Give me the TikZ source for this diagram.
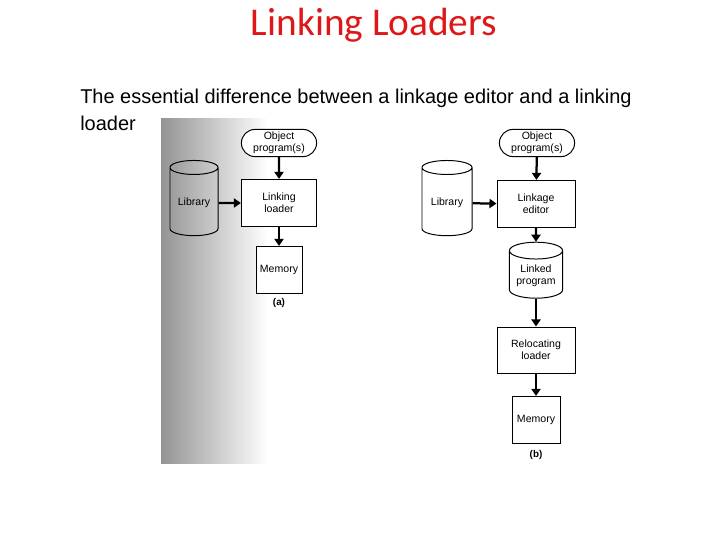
\documentclass[tikz,border=0pt]{standalone}
\usepackage{fontspec}
\setmainfont{Liberation Sans}
\newfontfamily\titlefont{Carlito}
\usetikzlibrary{shapes.geometric,shapes.misc,arrows.meta}
\definecolor{titlered}{RGB}{222,24,24}

\begin{document}
\begin{tikzpicture}
  [x=0.025cm,y=-0.025cm,
   every node/.style={font=\fontsize{7.5}{8.5}\selectfont,align=center,inner sep=1pt},
   box/.style={draw,line width=0.7pt,fill=white},
   store/.style={draw,line width=0.7pt,cylinder,shape border rotate=90,aspect=0.4},
   source/.style={draw,line width=0.7pt,rounded rectangle,fill=white,minimum width=1.95cm,minimum height=0.68cm},
   flow/.style={line width=1.6pt,-{Triangle[length=5pt,width=6.5pt]}}]
  \useasboundingbox (0,0) rectangle (720,539);
  \shade[left color=black!42,right color=white] (161,118) rectangle (268,463);

  \node[font=\titlefont\fontsize{28}{33}\selectfont,text=titlered,anchor=base] (title) at (374,35) {Linking Loaders};
  \node[font=\fontsize{14.2}{18.5}\selectfont,align=left,anchor=base west,inner sep=0pt] (intro) at (80,130)
    {The essential difference between a linkage editor and a linking\\loader};

  % (a) linking loader
  \node[source] (obja) at (279,143) {Object\\program(s)};
  \node[box,minimum width=1.88cm,minimum height=1.18cm] (linka) at (279,203) {Linking\\loader};
  \node[store,minimum width=1.2cm,minimum height=1.88cm] (liba) at (194,203) {Library};
  \node[box,minimum width=1.15cm,minimum height=1.18cm] (mema) at (279,270) {Memory};
  \node[font=\bfseries\fontsize{7}{8}\selectfont] (capa) at (279,303) {(a)};

  % (b) linkage editor
  \node[source] (objb) at (537,143) {Object\\program(s)};
  \node[store,minimum width=1.25cm,minimum height=1.88cm] (libb) at (447,203) {Library};
  \node[box,minimum width=1.95cm,minimum height=1.18cm] (editb) at (536,204) {Linkage\\editor};
  \node[store,minimum width=1.33cm,minimum height=1.4cm] (linkedb) at (536,276) {Linked\\program};
  \node[box,minimum width=1.95cm,minimum height=1.15cm] (relocb) at (536,350) {Relocating\\loader};
  \node[box,minimum width=1.2cm,minimum height=1.18cm] (memb) at (536,420) {Memory};
  \node[font=\bfseries\fontsize{7}{8}\selectfont] (capb) at (536,455) {(b)};

  \foreach \from/\to in {obja/linka,linka/mema,liba/linka,objb/editb,editb/linkedb,linkedb/relocb,relocb/memb,libb/editb}
    \draw[flow] (\from) -- (\to);

\end{tikzpicture}
\end{document}
